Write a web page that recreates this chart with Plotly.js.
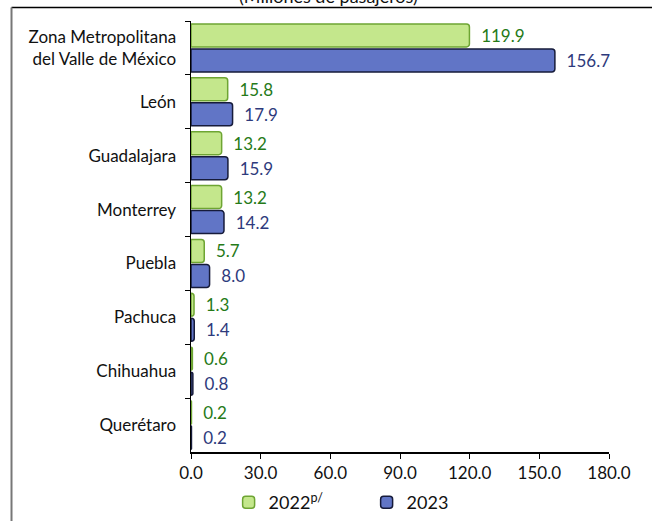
<!DOCTYPE html>
<html>
<head>
<meta charset="utf-8">
<script src="https://cdn.plot.ly/plotly-3.0.1.min.js"></script>
<style>html,body{margin:0;padding:0;background:#fff;}#chart{width:652px;height:521px;}</style>
</head>
<body>
<div id="chart"></div>
<script>
const categories = ["Zona Metropolitana<br>del Valle de México", "León", "Guadalajara", "Monterrey", "Puebla", "Pachuca", "Chihuahua", "Querétaro"];
const values2022 = [119.9, 15.8, 13.2, 13.2, 5.7, 1.3, 0.6, 0.2];
const values2023 = [156.7, 17.9, 15.9, 14.2, 8.0, 1.4, 0.8, 0.2];
const seriesNames = ["2022<sup>p/</sup>", "2023"];
const xTicks = [0, 30, 60, 90, 120, 150, 180];
const xTickLabels = ["0.0", "30.0", "60.0", "90.0", "120.0", "150.0", "180.0"];
const titleText = "(Millones de pasajeros)";

const font = "Lato, 'Open Sans', sans-serif";
const nb = "\u00a0\u00a0";

const traces = [
  {
    type: "bar", orientation: "h", name: seriesNames[0],
    y: categories, x: values2022,
    marker: {color: "#c4e78c", line: {color: "#6ea533", width: 1.5}},
    text: values2022.map(v => nb + v.toFixed(1)),
    textposition: "outside", cliponaxis: false,
    textfont: {family: font, size: 17, color: "#267a18"},
    hoverinfo: "x"
  },
  {
    type: "bar", orientation: "h", name: seriesNames[1],
    y: categories, x: values2023,
    marker: {color: "#6175c6", line: {color: "#161b3a", width: 1.5}},
    text: values2023.map(v => nb + v.toFixed(1)),
    textposition: "outside", cliponaxis: false,
    textfont: {family: font, size: 17, color: "#2e3a7c"},
    hoverinfo: "x"
  }
];

const layout = {
  width: 652, height: 521,
  margin: {l: 191, r: 43, t: 21, b: 69, autoexpand: false},
  paper_bgcolor: "#ffffff", plot_bgcolor: "#ffffff",
  font: {family: font, size: 17, color: "#111"},
  barmode: "group", bargap: 0.07, bargroupgap: 0.08,
  barcornerradius: 3,
  showlegend: true,
  legend: {
    orientation: "h", x: 0.09, xanchor: "left",
    yref: "container", y: 0, yanchor: "bottom",
    font: {family: font, size: 18, color: "#111"},
    entrywidth: 93, entrywidthmode: "pixels",
    bgcolor: "rgba(0,0,0,0)"
  },
  xaxis: {
    range: [0, 180], tickvals: xTicks, ticktext: xTickLabels,
    showgrid: false, zeroline: false,
    showline: true, linecolor: "#000", linewidth: 2,
    ticks: "outside", ticklen: 5, tickcolor: "#000", tickwidth: 1,
    tickfont: {family: font, size: 17, color: "#111"},
    fixedrange: true
  },
  yaxis: {
    type: "category", autorange: "reversed",
    showgrid: false, zeroline: false,
    showline: true, linecolor: "#000", linewidth: 1.5,
    ticks: "outside", ticklen: 5, tickcolor: "#000", tickson: "boundaries",
    ticklabelstandoff: 10,
    tickfont: {family: font, size: 17, color: "#111"},
    fixedrange: true
  },
  annotations: [{
    text: titleText, xref: "paper", yref: "paper", x: 0.33, y: 1.058,
    xanchor: "center", yanchor: "middle", showarrow: false,
    font: {family: font, size: 18, color: "#111"}
  }],
  shapes: [
    {type: "line", xref: "paper", yref: "paper", x0: -0.4294, x1: 1.2, y0: 1.0313, y1: 1.0313, line: {color: "#000", width: 1.5}},
    {type: "line", xref: "paper", yref: "paper", x0: -0.4294, x1: -0.4294, y0: 1.0313, y1: -0.2, line: {color: "#777", width: 2}}
  ]
};

Plotly.newPlot("chart", traces, layout, {displayModeBar: false, staticPlot: true});
</script>
</body>
</html>
